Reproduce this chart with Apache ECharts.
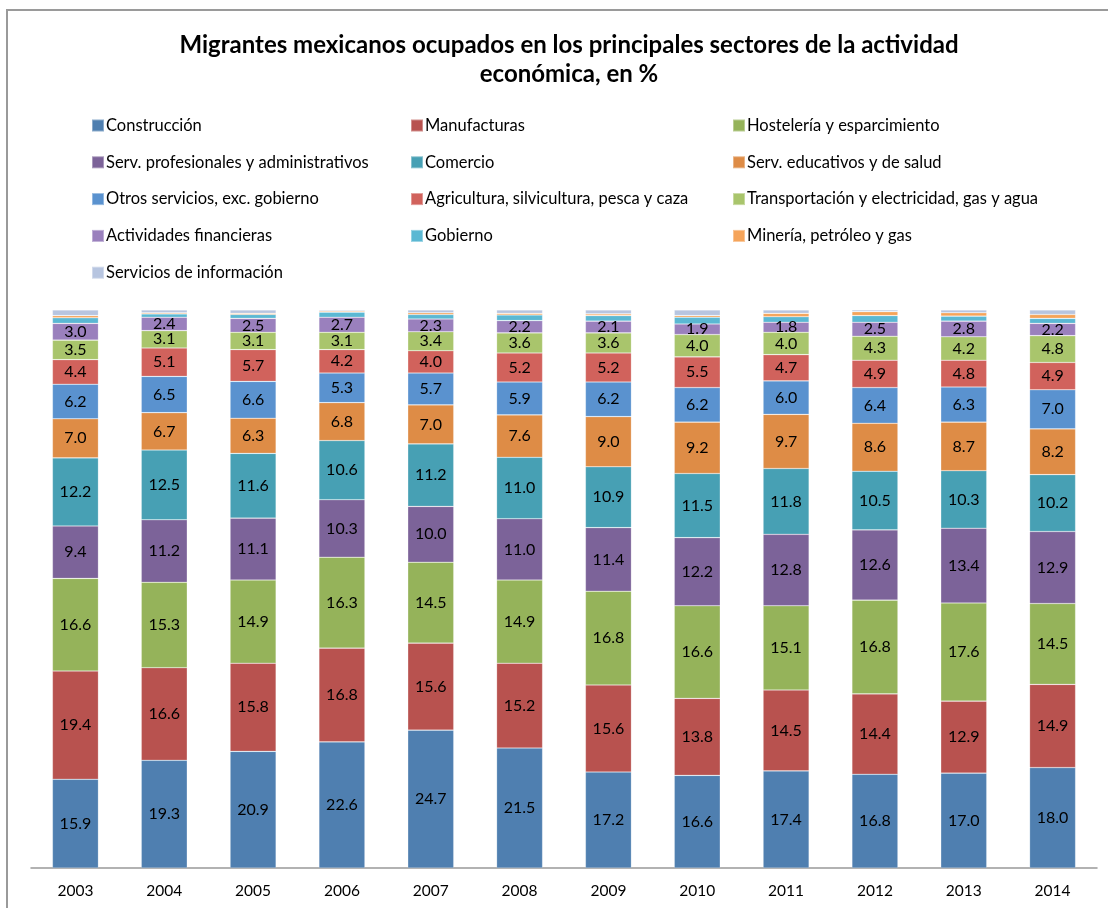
<!DOCTYPE html>
<html><head><meta charset="utf-8">
<script src="https://cdn.jsdelivr.net/npm/echarts@6/dist/echarts.min.js"></script>
<style>html,body{margin:0;padding:0;background:#fff}#c{width:1108px;height:908px}</style>
</head><body><div id="c"></div>
<script>
const years = ['2003','2004','2005','2006','2007','2008','2009','2010','2011','2012','2013','2014'];
const construccion = [15.9,19.3,20.9,22.6,24.7,21.5,17.2,16.6,17.4,16.8,17.0,18.0];
const manufacturas = [19.4,16.6,15.8,16.8,15.6,15.2,15.6,13.8,14.5,14.4,12.9,14.9];
const hosteleria = [16.6,15.3,14.9,16.3,14.5,14.9,16.8,16.6,15.1,16.8,17.6,14.5];
const servProf = [9.4,11.2,11.1,10.3,10.0,11.0,11.4,12.2,12.8,12.6,13.4,12.9];
const comercio = [12.2,12.5,11.6,10.6,11.2,11.0,10.9,11.5,11.8,10.5,10.3,10.2];
const servEduc = [7.0,6.7,6.3,6.8,7.0,7.6,9.0,9.2,9.7,8.6,8.7,8.2];
const otrosServ = [6.2,6.5,6.6,5.3,5.7,5.9,6.2,6.2,6.0,6.4,6.3,7.0];
const agricultura = [4.4,5.1,5.7,4.2,4.0,5.2,5.2,5.5,4.7,4.9,4.8,4.9];
const transporte = [3.5,3.1,3.1,3.1,3.4,3.6,3.6,4.0,4.0,4.3,4.2,4.8];
const financieras = [3.0,2.4,2.5,2.7,2.3,2.2,2.1,1.9,1.8,2.5,2.8,2.2];
const gobierno = [1.0,0.6,0.7,0.9,0.8,1.0,1.0,1.2,1.0,1.2,0.9,0.9];
const mineria = [0.4,0.2,0.2,0.2,0.3,0.3,0.3,0.3,0.6,0.7,0.6,0.7];
const informacion = [1.0,0.5,0.6,0.2,0.5,0.6,0.7,1.0,0.6,0.3,0.5,0.8];

const seriesDefs = [
  ['Construcción', construccion, '#4F7FB0', true],
  ['Manufacturas', manufacturas, '#B8524F', true],
  ['Hostelería y esparcimiento', hosteleria, '#95B35A', true],
  ['Serv. profesionales y administrativos', servProf, '#7C6399', true],
  ['Comercio', comercio, '#47A0B4', true],
  ['Serv. educativos y de salud', servEduc, '#DE8C46', true],
  ['Otros servicios, exc. gobierno', otrosServ, '#5A92CF', true],
  ['Agricultura, silvicultura, pesca y caza', agricultura, '#D1625C', true],
  ['Transportación y electricidad, gas y agua', transporte, '#A9C56C', true],
  ['Actividades financieras', financieras, '#9A80BD', true],
  ['Gobierno', gobierno, '#5BB8D3', false],
  ['Minería, petróleo y gas', mineria, '#F5A45A', false],
  ['Servicios de información', informacion, '#B7C5E0', false]
];

const font = 'Lato, "Open Sans", sans-serif';
const series = seriesDefs.map(([name, data, color, lbl]) => ({
  name, type: 'bar', stack: 'total', data,
  barWidth: 46,
  itemStyle: { color, borderColor: 'rgba(255,255,255,0.35)', borderWidth: 0.6 },
  label: { show: lbl, position: 'inside', color: '#000', fontSize: 16, fontFamily: font,
           formatter: p => p.value.toFixed(1) },
  emphasis: { disabled: true }
}));

const names = seriesDefs.map(d => d[0]);
const col = (idx) => idx.map(i => names[i]);
const legendBase = { orient: 'vertical', top: 112, itemWidth: 12, itemHeight: 12, itemGap: 19.8,
  icon: 'rect', textStyle: { fontSize: 16.5, fontFamily: font, color: '#000', padding: [0,0,0,-3] },
  selectedMode: false };

const chart = echarts.init(document.getElementById('c'), null, { renderer: 'canvas' });
chart.setOption({
  animation: false,
  backgroundColor: '#fff',
  title: {
    text: 'Migrantes mexicanos ocupados en los principales sectores de la actividad\neconómica, en %',
    left: 564, top: 26, textAlign: 'center',
    textStyle: { fontSize: 24, fontWeight: 'bold', fontFamily: font, color: '#000', lineHeight: 29 }
  },
  legend: [
    Object.assign({}, legendBase, { left: 86, data: col([0,3,6,9,12]) }),
    Object.assign({}, legendBase, { left: 405, data: col([1,4,7,10]) }),
    Object.assign({}, legendBase, { left: 727, data: col([2,5,8,11]) })
  ],
  graphic: [{
    type: 'polyline', shape: { points: [[7, 908], [7, 10], [1108, 10]] },
    style: { stroke: '#9a9a9a', lineWidth: 2, fill: null }
  }],
  grid: { left: 31, right: 11, top: 310, bottom: 40 },
  xAxis: {
    type: 'category', data: years,
    axisLine: { lineStyle: { color: '#999', width: 1.5 } },
    axisTick: { show: false },
    axisLabel: { color: '#000', fontSize: 15.5, fontFamily: font, margin: 15 }
  },
  yAxis: { type: 'value', min: 0, max: 100, show: false },
  series
});
</script></body></html>
